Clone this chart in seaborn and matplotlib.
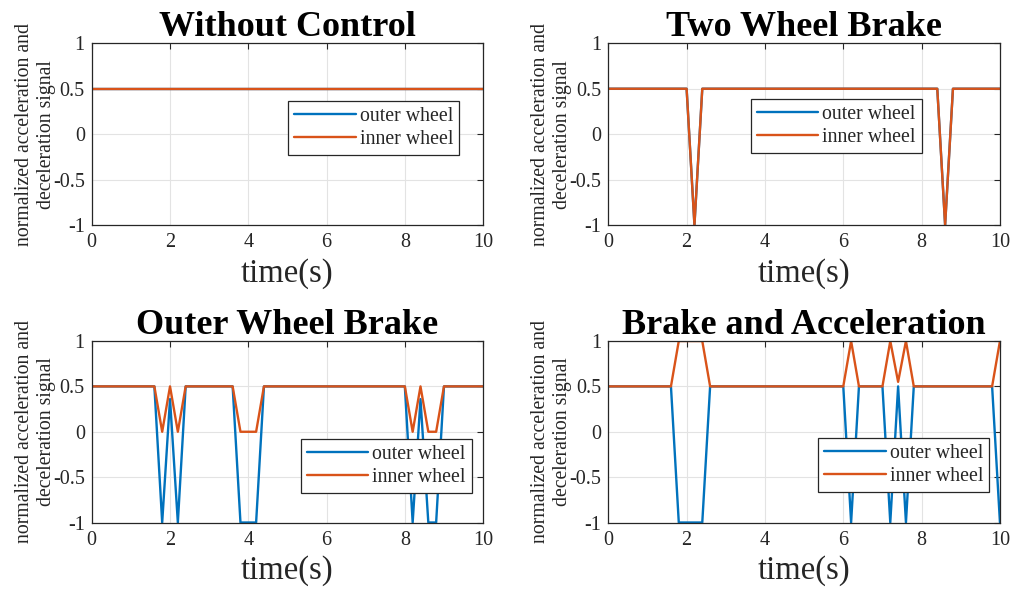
import numpy as np
import pandas as pd
import matplotlib
matplotlib.use("Agg")
import matplotlib.pyplot as plt
import seaborn as sns

# ---------------- data (breakpoints) ----------------
titles = ["Without Control", "Two Wheel Brake", "Outer Wheel Brake", "Brake and Acceleration"]
series_names = ["outer wheel", "inner wheel"]

t_without = [0, 10]
outer_without = [0.5, 0.5]
inner_without = [0.5, 0.5]

t_two = [0, 2.0, 2.2, 2.4, 8.4, 8.6, 8.8, 10]
outer_two = [0.5, 0.5, -1, 0.5, 0.5, -1, 0.5, 0.5]
inner_two = [0.5, 0.5, -1, 0.5, 0.5, -1, 0.5, 0.5]

t_outer = [0, 1.6, 1.8, 2.0, 2.2, 2.4, 3.6, 3.8, 4.2, 4.4, 8.0, 8.2, 8.4, 8.6, 8.8, 9.0, 10]
outer_outer = [0.5, 0.5, -1, 0.36, -1, 0.5, 0.5, -1, -1, 0.5, 0.5, -1, 0.36, -1, -1, 0.5, 0.5]
inner_outer = [0.5, 0.5, 0, 0.5, 0, 0.5, 0.5, 0, 0, 0.5, 0.5, 0, 0.5, 0, 0, 0.5, 0.5]

t_ba = [0, 1.6, 1.8, 2.4, 2.6, 6.0, 6.2, 6.4, 7.0, 7.2, 7.4, 7.6, 7.8, 9.8, 10]
outer_ba = [0.5, 0.5, -1, -1, 0.5, 0.5, -1, 0.5, 0.5, -1, 0.5, -1, 0.5, 0.5, -1]
inner_ba = [0.5, 0.5, 1, 1, 0.5, 0.5, 1, 0.5, 0.5, 1, 0.55, 1, 0.5, 0.5, 1]

x_ticks = [0, 2, 4, 6, 8, 10]
y_ticks = [-1, -0.5, 0, 0.5, 1]
y_ticklabels = ["-1", "-0.5", "0", "0.5", "1"]
x_label = "time(s)"
y_label = "normalized acceleration and\ndeceleration signal"

panels = [
    (t_without, outer_without, inner_without),
    (t_two, outer_two, inner_two),
    (t_outer, outer_outer, inner_outer),
    (t_ba, outer_ba, inner_ba),
]

# ---------------- styling ----------------
sns.set_style("white")
plt.rcParams["font.family"] = ["Liberation Serif", "DejaVu Serif"]

colors = {"outer wheel": "#0072BD", "inner wheel": "#D95319"}
edge = "#262626"

fig = plt.figure(figsize=(10.16, 5.90), dpi=100)

axes_rects = [
    [0.0903, 0.6186, 0.3852, 0.3080],
    [0.5987, 0.6186, 0.3855, 0.3080],
    [0.0903, 0.1144, 0.3852, 0.3076],
    [0.5987, 0.1144, 0.3855, 0.3076],
]
legend_anchor = [
    (0.502, 0.682),
    (0.364, 0.694),
    (0.534, 0.459),
    (0.536, 0.464),
]

for i, (rect, (t, outer, inner)) in enumerate(zip(axes_rects, panels)):
    ax = fig.add_axes(rect)
    df = pd.concat([
        pd.DataFrame({"t": t, "v": outer, "s": series_names[0]}),
        pd.DataFrame({"t": t, "v": inner, "s": series_names[1]}),
    ], ignore_index=True)
    sns.lineplot(data=df, x="t", y="v", hue="s", palette=colors, ax=ax,
                 linewidth=1.7, sort=False, estimator=None, legend=False)
    ax.set_xlim(0, 10)
    ax.set_ylim(-1, 1)
    ax.set_xticks(x_ticks)
    ax.set_xticklabels([str(v) for v in x_ticks])
    ax.set_yticks(y_ticks)
    ax.set_yticklabels(y_ticklabels)
    ax.grid(True, color="#e3e3e3", linewidth=0.8)
    ax.set_axisbelow(True)
    for sp in ax.spines.values():
        sp.set_visible(True)
        sp.set_color(edge)
        sp.set_linewidth(0.9)
    ax.tick_params(axis="both", direction="in", length=4, width=0.8, color=edge,
                   labelsize=14.5, labelcolor="#262626", top=True, right=True)
    ax.tick_params(axis="x", pad=6)
    ax.tick_params(axis="y", pad=5)
    ax.set_xlabel(x_label, fontsize=23.5, labelpad=4, color="#262626")
    ax.set_ylabel(y_label, fontsize=14.2, labelpad=-2, color="#262626", linespacing=1.2)
    ax.set_title(titles[i], fontsize=26, fontweight="bold", pad=5, color="black")

    handles = [plt.Line2D([], [], color=colors[n], linewidth=1.7) for n in series_names]
    leg = ax.legend(handles, series_names, loc="upper left", bbox_to_anchor=legend_anchor[i],
                    fontsize=14.3, frameon=True, fancybox=False, framealpha=1,
                    edgecolor=edge, handlelength=3.1, handletextpad=0.2,
                    borderpad=0.3, labelspacing=0.2, borderaxespad=0)
    leg.get_frame().set_linewidth(0.9)

fig.savefig("out.png", dpi=100, facecolor="white")
